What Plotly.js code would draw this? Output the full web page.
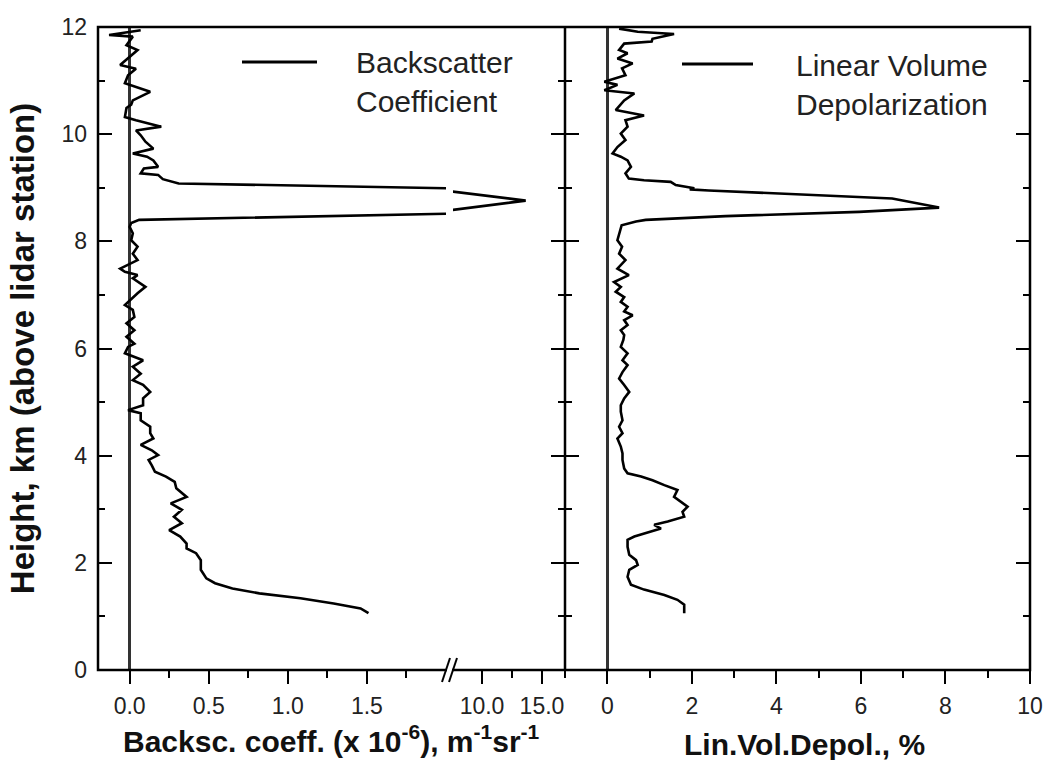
<!DOCTYPE html>
<html>
<head>
<meta charset="utf-8">
<script src="https://cdn.plot.ly/plotly-3.0.1.min.js"></script>
<style>
html,body{margin:0;padding:0;background:#fff;}
#chart{width:1048px;height:760px;}
</style>
</head>
<body>
<div id="chart"></div>
<script>
// ---- Data ----
// Backscatter coefficient profile (x 1e-6 m^-1 sr^-1) vs height (km)
const bscHeight = [11.94,11.85,11.82,11.66,11.57,11.44,11.29,11.22,11.10,10.95,10.88,10.79,10.63,10.55,10.49,10.32,10.26,10.14,10.07,9.98,9.86,9.73,9.64,9.58,9.51,9.39,9.36,9.27,9.24,9.16,9.08,
  8.985,8.93,8.76,8.585,8.52,8.40,
  8.34,8.27,8.15,8.02,7.90,7.77,7.65,7.49,7.43,7.37,7.31,7.21,7.15,7.03,6.90,6.81,6.72,6.59,6.47,6.34,6.22,6.09,6.03,5.91,5.78,5.66,5.53,5.41,5.32,5.19,5.07,4.94,4.85,4.79,4.66,4.54,4.42,4.32,4.20,4.10,4.01,3.92,3.82,3.70,3.61,3.51,3.39,3.23,3.11,2.99,2.86,2.74,2.61,2.49,2.36,2.27,2.18,2.05,1.87,1.71,1.62,1.52,1.43,1.34,1.24,1.15,1.06];
const bscValue = [0.07,-0.13,0.02,-0.02,0.05,0.00,-0.06,0.04,-0.01,-0.03,0.04,0.13,0.02,0.01,-0.02,-0.03,0.04,0.20,0.04,0.07,0.10,0.15,0.02,0.11,0.15,0.18,0.09,0.07,0.18,0.21,0.31,
  2.1,7.5,13.64,7.5,2.1,0.06,
  0.01,0.00,0.02,0.01,0.05,0.02,0.05,-0.06,-0.03,0.05,0.02,0.07,0.10,0.05,0.00,-0.03,0.02,0.03,-0.02,0.03,-0.02,0.03,-0.01,-0.03,0.085,0.02,0.07,0.02,0.085,0.13,0.085,0.085,-0.01,0.07,0.07,0.13,0.13,0.15,0.07,0.14,0.18,0.12,0.14,0.16,0.23,0.285,0.295,0.36,0.26,0.33,0.28,0.33,0.25,0.32,0.36,0.36,0.42,0.45,0.45,0.485,0.54,0.65,0.82,1.08,1.29,1.46,1.51];

// Linear volume depolarization (%) vs height (km)
const depHeight = [11.97,11.91,11.87,11.78,11.73,11.69,11.57,11.51,11.41,11.32,11.23,11.10,10.98,10.92,10.82,10.76,10.63,10.51,10.45,10.35,10.26,10.14,10.01,9.89,9.76,9.64,9.58,9.51,9.39,9.27,9.17,9.14,9.11,9.05,8.99,8.97,8.95,
  8.80,8.63,8.55,8.47,8.40,8.37,8.30,8.15,8.02,7.90,7.77,7.65,7.49,7.37,7.24,7.15,7.06,6.96,6.87,6.78,6.69,6.62,6.53,6.44,6.34,6.25,6.16,6.03,5.91,5.78,5.69,5.56,5.44,5.32,5.19,5.07,4.94,4.82,4.66,4.54,4.42,4.32,4.17,4.04,3.92,3.76,3.67,3.61,3.54,3.45,3.36,3.23,3.11,3.05,2.95,2.86,2.77,2.71,2.64,2.58,2.49,2.43,2.30,2.15,2.05,1.96,1.87,1.74,1.59,1.50,1.40,1.31,1.22,1.06];
const depValue = [0.28,0.72,1.58,1.07,1.05,0.40,0.28,0.48,0.24,0.60,0.35,0.43,-0.07,0.24,-0.07,0.64,0.40,0.28,0.20,0.87,0.43,0.48,0.32,0.43,0.24,0.125,0.32,0.48,0.56,0.43,0.51,0.87,1.50,1.62,2.06,1.95,2.40,
  6.74,7.85,5.96,2.80,0.91,0.68,0.34,0.28,0.24,0.35,0.28,0.43,0.24,0.51,0.16,0.32,0.20,0.40,0.32,0.48,0.40,0.60,0.40,0.48,0.32,0.40,0.38,0.32,0.48,0.36,0.48,0.36,0.28,0.40,0.52,0.40,0.32,0.32,0.36,0.28,0.36,0.24,0.32,0.36,0.36,0.40,0.48,0.80,1.07,1.35,1.66,1.58,1.78,1.90,1.78,1.82,1.43,1.11,1.27,1.03,0.64,0.48,0.48,0.52,0.68,0.72,0.52,0.48,0.56,0.87,1.35,1.66,1.82,1.82];

// Tick labels
const bscTickVals = [0, 0.5, 1.0, 1.5];
const bscTickText = ['0.0', '0.5', '1.0', '1.5'];
const bscMinorVals = [0.25, 0.75, 1.25, 1.75];
const bscHiTickVals = [10, 15];
const bscHiTickText = ['10.0', '15.0'];
const bscHiMinorVals = [12.5];

const legendBsc = 'Backscatter<br>Coefficient';
const legendDep = 'Linear Volume<br>Depolarization';
const titleY = 'Height, km (above lidar station)';
const titleBsc = 'Backsc. coeff. (x 10<sup>-6</sup>), m<sup>-1</sup>sr<sup>-1</sup>';
const titleDep = 'Lin.Vol.Depol., %';

// ---- Figure ----
const FONT = 'Liberation Sans, Arial, Helvetica, sans-serif';
const lineStyle = {color: '#000', width: 2.6};

const traces = [
  {x: bscValue, y: bscHeight, xaxis: 'x', yaxis: 'y', type: 'scatter', mode: 'lines', line: lineStyle, name: 'Backscatter Coefficient', hoverinfo: 'x+y'},
  {x: bscValue, y: bscHeight, xaxis: 'x2', yaxis: 'y3', type: 'scatter', mode: 'lines', line: lineStyle, name: 'Backscatter Coefficient', showlegend: false, hoverinfo: 'x+y'},
  {x: depValue, y: depHeight, xaxis: 'x3', yaxis: 'y2', type: 'scatter', mode: 'lines', line: lineStyle, name: 'Linear Volume Depolarization', hoverinfo: 'x+y'}
];

const tickBase = {
  ticks: 'outside', ticklen: 13, tickwidth: 2, tickcolor: '#000',
  showgrid: false, showline: false,
  tickfont: {family: FONT, size: 23, color: '#222'}
};

const D1 = 348/932, D2a = 355/932, D2b = 467/932;

const yBase = {
  range: [0, 12], showgrid: false, zeroline: false, showline: false,
  ticks: 'inside', ticklen: 14, tickwidth: 2, tickcolor: '#000',
  tick0: 0, dtick: 2,
  minor: {ticks: 'inside', ticklen: 7, tickwidth: 2, tickcolor: '#000', dtick: 1, tick0: 0}
};

const layout = {
  width: 1048, height: 760,
  margin: {l: 98, r: 18, t: 27, b: 90, pad: 0},
  paper_bgcolor: '#fff', plot_bgcolor: '#fff',
  showlegend: false,
  font: {family: FONT, color: '#222'},
  xaxis: Object.assign({}, tickBase, {
    domain: [0, D1], range: [-0.2, 2.0], anchor: 'y',
    tickmode: 'array', tickvals: bscTickVals, ticktext: bscTickText,
    minor: {tickmode: 'array', tickvals: bscMinorVals, ticks: 'outside', ticklen: 7, tickwidth: 2, tickcolor: '#000'},
    zeroline: true, zerolinecolor: '#333', zerolinewidth: 2.5,
    ticklabelstandoff: 2
  }),
  xaxis2: Object.assign({}, tickBase, {
    domain: [D2a, D2b], range: [7.58, 16.92], anchor: 'y3',
    tickmode: 'array', tickvals: bscHiTickVals, ticktext: bscHiTickText,
    minor: {tickmode: 'array', tickvals: bscHiMinorVals, ticks: 'outside', ticklen: 7, tickwidth: 2, tickcolor: '#000'},
    zeroline: false,
    ticklabelstandoff: 2
  }),
  xaxis3: Object.assign({}, tickBase, {
    domain: [D2b, 1], range: [-1, 10], anchor: 'y2',
    tick0: 0, dtick: 2,
    minor: {tick0: 0, dtick: 1, ticks: 'outside', ticklen: 7, tickwidth: 2, tickcolor: '#000'},
    zeroline: true, zerolinecolor: '#333', zerolinewidth: 2.5,
    ticklabelstandoff: 2
  }),
  yaxis: Object.assign({}, yBase, {
    anchor: 'x', side: 'left', domain: [0, 1],
    showticklabels: true,
    tickfont: {family: FONT, size: 23, color: '#222'},
    ticklabelstandoff: 10,
    title: {text: '<b>' + titleY + '</b>', font: {family: FONT, size: 33, color: '#111'}, standoff: 16}
  }),
  yaxis2: Object.assign({}, yBase, {
    anchor: 'x3', side: 'left', domain: [0, 1], mirror: 'ticks', showticklabels: false
  }),
  yaxis3: Object.assign({}, yBase, {
    anchor: 'x2', side: 'right', domain: [0, 1], showticklabels: false
  }),
  shapes: [
    // frame of both panels
    {type: 'rect', xref: 'paper', yref: 'paper', x0: 0, x1: 1, y0: 0, y1: 1, line: {color: '#000', width: 2.5}},
    {type: 'line', xref: 'paper', yref: 'paper', x0: D2b, x1: D2b, y0: 0, y1: 1, line: {color: '#000', width: 2.5}},
    // axis break marks
    {type: 'rect', xref: 'paper', yref: 'paper', x0: (447-98)/932, x1: (452-98)/932, y0: -4/643, y1: 4/643, line: {width: 0}, fillcolor: '#fff'},
    {type: 'line', xref: 'paper', yref: 'paper', x0: (442-98)/932, x1: (450-98)/932, y0: -12/643, y1: 12/643, line: {color: '#000', width: 2}},
    {type: 'line', xref: 'paper', yref: 'paper', x0: (449-98)/932, x1: (457-98)/932, y0: -12/643, y1: 12/643, line: {color: '#000', width: 2}},
    // legend samples
    {type: 'line', xref: 'paper', yref: 'paper', x0: (242-98)/932, x1: (317-98)/932, y0: (670-62)/643, y1: (670-62)/643, line: {color: '#000', width: 3}},
    {type: 'line', xref: 'paper', yref: 'paper', x0: (682-98)/932, x1: (753-98)/932, y0: (670-64)/643, y1: (670-64)/643, line: {color: '#000', width: 3}}
  ],
  annotations: [
    {xref: 'paper', yref: 'paper', x: (354-98)/932, y: (670-82.5)/643, xanchor: 'left', yanchor: 'middle', align: 'left', showarrow: false,
     text: legendBsc, font: {family: FONT, size: 30, color: '#222'}},
    {xref: 'paper', yref: 'paper', x: (794-98)/932, y: (670-85)/643, xanchor: 'left', yanchor: 'middle', align: 'left', showarrow: false,
     text: legendDep, font: {family: FONT, size: 30, color: '#222'}},
    {xref: 'paper', yref: 'paper', x: (331.5-98)/932, y: (670-739)/643, xanchor: 'center', yanchor: 'middle', showarrow: false,
     text: '<b>' + titleBsc + '</b>', font: {family: FONT, size: 30, color: '#111'}},
    {xref: 'paper', yref: 'paper', x: (804.5-98)/932, y: (670-744)/643, xanchor: 'center', yanchor: 'middle', showarrow: false,
     text: '<b>' + titleDep + '</b>', font: {family: FONT, size: 30, color: '#111'}}
  ]
};

Plotly.newPlot('chart', traces, layout, {displayModeBar: false, staticPlot: true});
</script>
</body>
</html>
